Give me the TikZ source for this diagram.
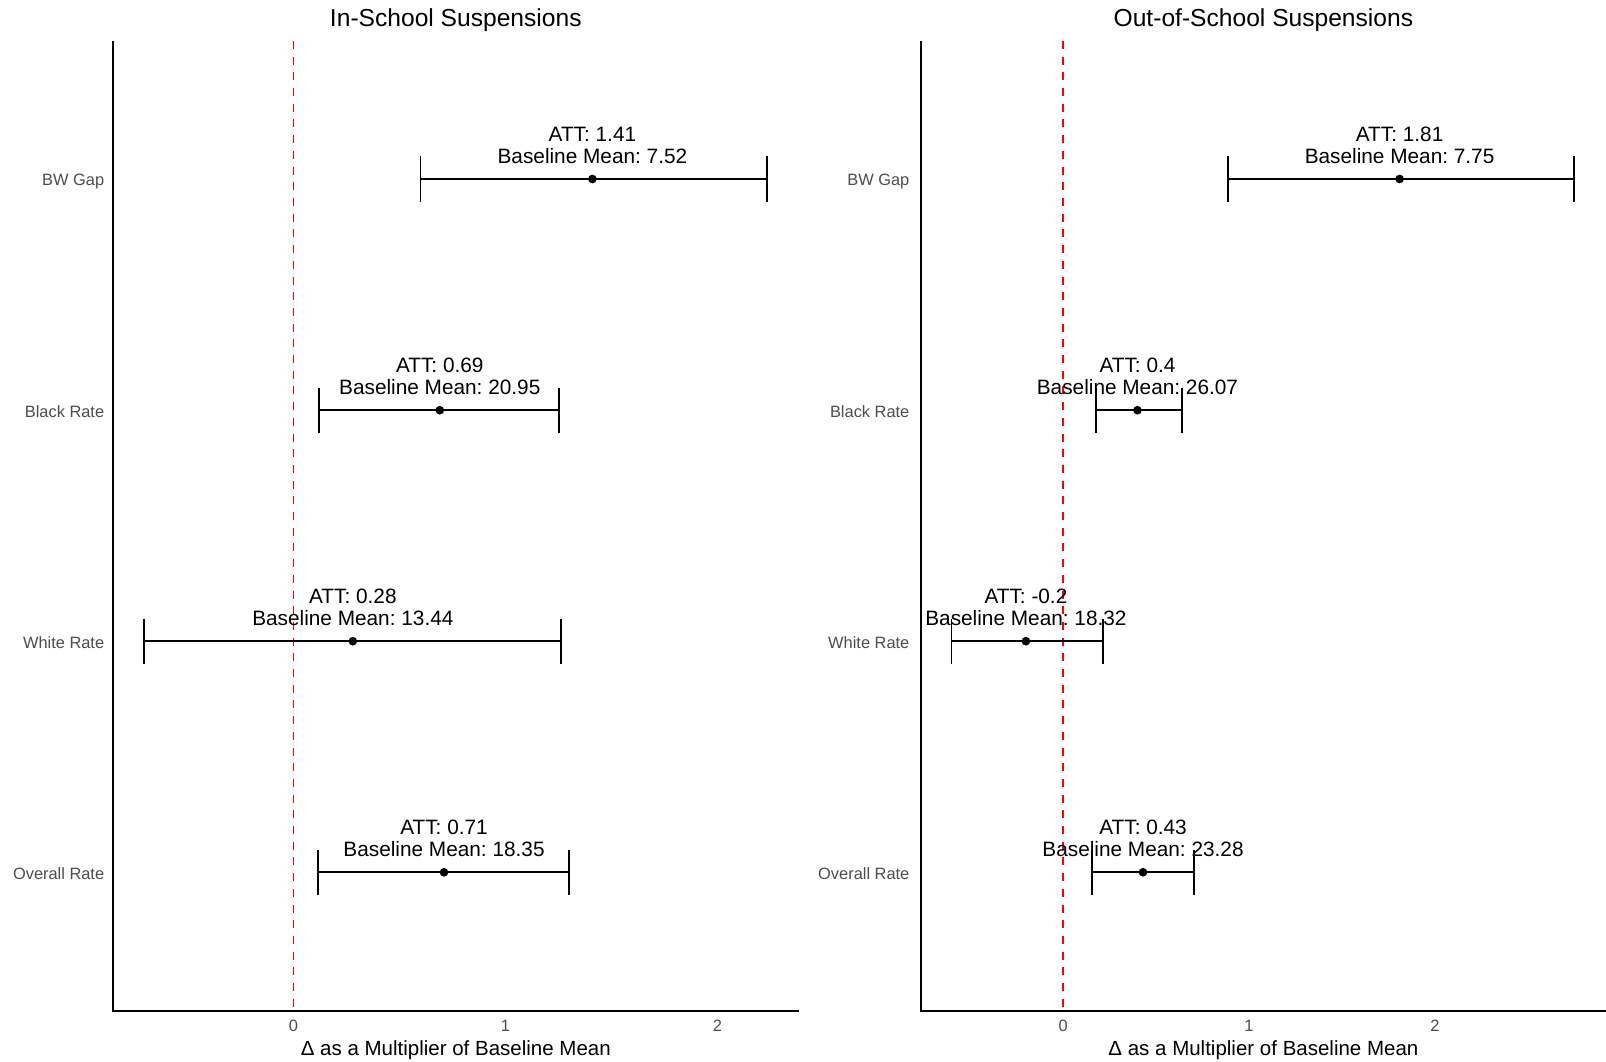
\documentclass[tikz,border=0pt]{standalone}
\usepackage{fontspec}
\setmainfont{Liberation Sans}
\usetikzlibrary{positioning}
\definecolor{gray30}{HTML}{4D4D4D}
\frenchspacing

\begin{document}
\begin{tikzpicture}[
	x=1pt, y=-1pt,
	axisline/.style={draw=black, line width=1.8pt},
	zeroline/.style={draw=red, line width=1.8pt, dash pattern=on 8pt off 7.7pt},
	errbar/.style={draw=black, line width=1.8pt},
	estpt/.style={circle, fill=black, inner sep=0pt, minimum size=8.7pt},
	rowlabel/.style={anchor=east, inner sep=0pt, text=gray30, font=\fontsize{16.4}{19}\selectfont},
	ticklabel/.style={inner sep=0pt, text=gray30, font=\fontsize{16.4}{19}\selectfont},
	att/.style={anchor=south, inner sep=0pt, align=center, font=\fontsize{20.8}{22.3}\selectfont},
	paneltitle/.style={inner sep=0pt, font=\fontsize{24.6}{28}\selectfont},
	axtitle/.style={inner sep=0pt, font=\fontsize{20.5}{24}\selectfont}
	]
	\useasboundingbox (0,0) rectangle (1606,1062);
	
	% Panel titles
	\node[paneltitle] (title-in) at (455.8,20) {In-School Suspensions};
	\node[paneltitle] (title-out) at (1263.4,20) {Out-of-School Suspensions};
	
	% Left panel (in-school)
	\begin{scope}[shift={(293.5,0)}, x=212pt]
		\coordinate (L-top) at (-0.853,41);
		\coordinate (L-corner) at (-0.853,1011);
		\coordinate (L-end) at (2.384,1011);
		\draw[axisline] (L-top) -- (L-corner) -- (L-end);
		
		% zero line
		\coordinate (L-z0) at (0,41);
		\coordinate (L-z1) at (0,1011);
		\draw[zeroline] (L-z0) -- (L-z1);
		
		% tick labels and axis title
		\node[ticklabel] (L-t0) at (0,1026) {0};
		\node[ticklabel] (L-t1) at (1,1026) {1};
		\node[ticklabel] (L-t2) at (2,1026) {2};
		\node[axtitle] (L-xlab) at (0.7656,1049.8) {Δ as a Multiplier of Baseline Mean};
		
		% row labels
		\node[rowlabel] (L-bw-name) at (-0.892,181.4) {BW Gap};
		\node[rowlabel] (L-blk-name) at (-0.892,412) {Black Rate};
		\node[rowlabel] (L-wht-name) at (-0.892,643) {White Rate};
		\node[rowlabel] (L-all-name) at (-0.892,874) {Overall Rate};
		
		% BW gap
		\coordinate (L-bw-lo) at (0.599,179);
		\coordinate (L-bw-hi) at (2.232,179);
		\draw[errbar] (L-bw-lo) ++(0,-22.7) -- ++(0,45.4) (L-bw-lo) -- (L-bw-hi) ++(0,-22.7) -- ++(0,45.4);
		\node[estpt] (L-bw-est) at (1.41,179) {};
		\node[att, above=10.6pt of L-bw-est] (L-bw-lab) {ATT: 1.41\\Baseline Mean: 7.52};
		
		% Black rate
		\coordinate (L-blk-lo) at (0.121,410.2);
		\coordinate (L-blk-hi) at (1.251,410.2);
		\draw[errbar] (L-blk-lo) ++(0,-22.7) -- ++(0,45.4) (L-blk-lo) -- (L-blk-hi) ++(0,-22.7) -- ++(0,45.4);
		\node[estpt] (L-blk-est) at (0.69,410.2) {};
		\node[att, above=10.6pt of L-blk-est] (L-blk-lab) {ATT: 0.69\\Baseline Mean: 20.95};
		
		% White rate
		\coordinate (L-wht-lo) at (-0.705,641.2);
		\coordinate (L-wht-hi) at (1.261,641.2);
		\draw[errbar] (L-wht-lo) ++(0,-22.7) -- ++(0,45.4) (L-wht-lo) -- (L-wht-hi) ++(0,-22.7) -- ++(0,45.4);
		\node[estpt] (L-wht-est) at (0.28,641.2) {};
		\node[att, above=10.6pt of L-wht-est] (L-wht-lab) {ATT: 0.28\\Baseline Mean: 13.44};
		
		% Overall rate
		\coordinate (L-all-lo) at (0.116,872.3);
		\coordinate (L-all-hi) at (1.30,872.3);
		\draw[errbar] (L-all-lo) ++(0,-22.7) -- ++(0,45.4) (L-all-lo) -- (L-all-hi) ++(0,-22.7) -- ++(0,45.4);
		\node[estpt] (L-all-est) at (0.71,872.3) {};
		\node[att, above=10.6pt of L-all-est] (L-all-lab) {ATT: 0.71\\Baseline Mean: 18.35};
	\end{scope}
	
	% Right panel (out-of-school)
	\begin{scope}[shift={(1063.1,0)}, x=185.9pt]
		\coordinate (R-top) at (-0.766,41);
		\coordinate (R-corner) at (-0.766,1011);
		\coordinate (R-end) at (2.918,1011);
		\draw[axisline] (R-top) -- (R-corner) -- (R-end);
		
		% zero line
		\coordinate (R-z0) at (0,41);
		\coordinate (R-z1) at (0,1011);
		\draw[zeroline] (R-z0) -- (R-z1);
		
		% tick labels and axis title
		\node[ticklabel] (R-t0) at (0,1026) {0};
		\node[ticklabel] (R-t1) at (1,1026) {1};
		\node[ticklabel] (R-t2) at (2,1026) {2};
		\node[axtitle] (R-xlab) at (1.0775,1049.8) {Δ as a Multiplier of Baseline Mean};
		
		% row labels
		\node[rowlabel] (R-bw-name) at (-0.826,181.4) {BW Gap};
		\node[rowlabel] (R-blk-name) at (-0.826,412) {Black Rate};
		\node[rowlabel] (R-wht-name) at (-0.826,643) {White Rate};
		\node[rowlabel] (R-all-name) at (-0.826,874) {Overall Rate};
		
		% BW gap
		\coordinate (R-bw-lo) at (0.887,179);
		\coordinate (R-bw-hi) at (2.749,179);
		\draw[errbar] (R-bw-lo) ++(0,-22.7) -- ++(0,45.4) (R-bw-lo) -- (R-bw-hi) ++(0,-22.7) -- ++(0,45.4);
		\node[estpt] (R-bw-est) at (1.81,179) {};
		\node[att, above=10.6pt of R-bw-est] (R-bw-lab) {ATT: 1.81\\Baseline Mean: 7.75};
		
		% Black rate
		\coordinate (R-blk-lo) at (0.176,410.2);
		\coordinate (R-blk-hi) at (0.639,410.2);
		\draw[errbar] (R-blk-lo) ++(0,-22.7) -- ++(0,45.4) (R-blk-lo) -- (R-blk-hi) ++(0,-22.7) -- ++(0,45.4);
		\node[estpt] (R-blk-est) at (0.40,410.2) {};
		\node[att, above=10.6pt of R-blk-est] (R-blk-lab) {ATT: 0.4\\Baseline Mean: 26.07};
		
		% White rate
		\coordinate (R-wht-lo) at (-0.600,641.2);
		\coordinate (R-wht-hi) at (0.215,641.2);
		\draw[errbar] (R-wht-lo) ++(0,-22.7) -- ++(0,45.4) (R-wht-lo) -- (R-wht-hi) ++(0,-22.7) -- ++(0,45.4);
		\node[estpt] (R-wht-est) at (-0.20,641.2) {};
		\node[att, above=10.6pt of R-wht-est] (R-wht-lab) {ATT: -0.2\\Baseline Mean: 18.32};
		
		% Overall rate
		\coordinate (R-all-lo) at (0.154,872.3);
		\coordinate (R-all-hi) at (0.705,872.3);
		\draw[errbar] (R-all-lo) ++(0,-22.7) -- ++(0,45.4) (R-all-lo) -- (R-all-hi) ++(0,-22.7) -- ++(0,45.4);
		\node[estpt] (R-all-est) at (0.43,872.3) {};
		\node[att, above=10.6pt of R-all-est] (R-all-lab) {ATT: 0.43\\Baseline Mean: 23.28};
	\end{scope}
	
\end{tikzpicture}
\end{document}
